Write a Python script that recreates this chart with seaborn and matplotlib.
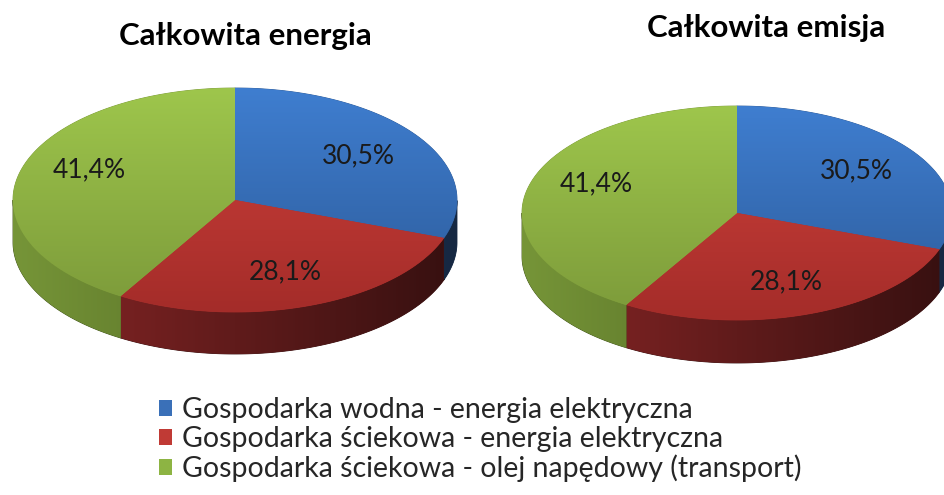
"""
Two pseudo-3D pie charts (Excel style): total energy and total emission shares.
Saves out.png (944x495 px).
"""

import numpy as np
import matplotlib
matplotlib.use("Agg")
import matplotlib.pyplot as plt
import seaborn as sns
from matplotlib.patches import Polygon, Patch
from matplotlib.colors import LinearSegmentedColormap

# data
categories = [
    "Gospodarka wodna - energia elektryczna",
    "Gospodarka ściekowa - energia elektryczna",
    "Gospodarka ściekowa - olej napędowy (transport)",
]
energy_share = [30.5, 28.1, 41.4]
emission_share = [30.5, 28.1, 41.4]
titles = ["Całkowita energia", "Całkowita emisja"]

# styles: top face gradient (light -> dark), side wall gradient (left -> right)
top_light = ["#3F7ED0", "#D0423C", "#9EC64C"]
top_dark = ["#2C5A98", "#A42C29", "#7C9A3A"]
side_light = ["#2E5286", "#8A2626", "#769538"]
side_dark = ["#162842", "#361010", "#3E5018"]
legend_colors = ["#3A70B8", "#C03A35", "#8DB443"]

sns.set_theme(style="white")
plt.rcParams["font.family"] = ["Lato", "DejaVu Sans"]


def ellipse_pts(cx, cy, rx, ry, angles):
    # angles in degrees, y axis points down (pixel style)
    t = np.radians(angles)
    return np.column_stack([cx + rx * np.cos(t), cy - ry * np.sin(t)])


def gradient_fill(ax, poly, c0, c1, extent, horizontal, z):
    patch = Polygon(poly, closed=True, facecolor=c0, edgecolor=c1, lw=0.6, zorder=z - 0.1)
    ax.add_patch(patch)
    cmap = LinearSegmentedColormap.from_list("g", [c0, c1])
    grad = np.linspace(0, 1, 256)
    img = grad.reshape(1, -1) if horizontal else grad.reshape(-1, 1)
    im = ax.imshow(img, cmap=cmap, extent=extent, origin="lower", aspect="auto",
                   zorder=z, interpolation="bilinear")
    im.set_clip_path(patch)


def draw_pie(ax, values, cx, cy, rx, ry, depth, title, title_x, title_y):
    fracs = np.array(values) / np.sum(values)
    start = 90.0
    for i, f in enumerate(fracs):
        a0, a1 = start, start - f * 360.0
        th = np.linspace(a1, a0, 400)
        # top face
        arc = ellipse_pts(cx, cy, rx, ry, th)
        top = np.vstack([[cx, cy], arc])
        gradient_fill(ax, top, top_light[i], top_dark[i],
                      (cx - rx, cx + rx, cy - ry, cy + ry), False, 3)
        # front side wall (only the lower half of the ellipse is visible)
        vis = th[np.sin(np.radians(th)) <= 0]
        if len(vis) > 1:
            upper = ellipse_pts(cx, cy, rx, ry, vis)
            lower = upper[::-1] + [0, depth]
            gradient_fill(ax, np.vstack([upper, lower]), side_light[i], side_dark[i],
                          (cx - rx, cx + rx, cy, cy + ry + depth), True, 1)
        # percent label
        mid = np.radians((a0 + a1) / 2)
        lx = cx + 0.68 * rx * np.cos(mid)
        ly = cy - 0.68 * ry * np.sin(mid)
        if np.cos(mid) < -0.5:
            ly -= 10  # Excel nudges the left label a little higher
        ax.text(lx, ly, f"{values[i]:.1f}%".replace(".", ","), ha="center", va="center",
                fontsize=19, color="#1a1a1a", zorder=5)
        start = a1
    ax.text(title_x, title_y, title, ha="center", va="center",
            fontsize=22.5, fontweight="bold", color="black")


fig = plt.figure(figsize=(9.44, 4.95), dpi=100)
ax = fig.add_axes([0, 0, 1, 1])

draw_pie(ax, energy_share, 235, 200, 222, 112, 42, titles[0], 245, 36)
draw_pie(ax, emission_share, 737, 213, 215, 107, 43, titles[1], 766, 28)

ax.set_xlim(0, 944)
ax.set_ylim(495, 0)
ax.axis("off")

handles = [Patch(facecolor=c, edgecolor="none") for c in legend_colors]
fig.legend(handles, categories, loc="upper left", bbox_to_anchor=(0.168, 0.198),
           frameon=False, fontsize=20.5, handlelength=0.48, handleheight=0.48,
           handletextpad=0.35, labelspacing=0.1, borderpad=0, borderaxespad=0)

fig.savefig("out.png", dpi=100)
plt.close(fig)
